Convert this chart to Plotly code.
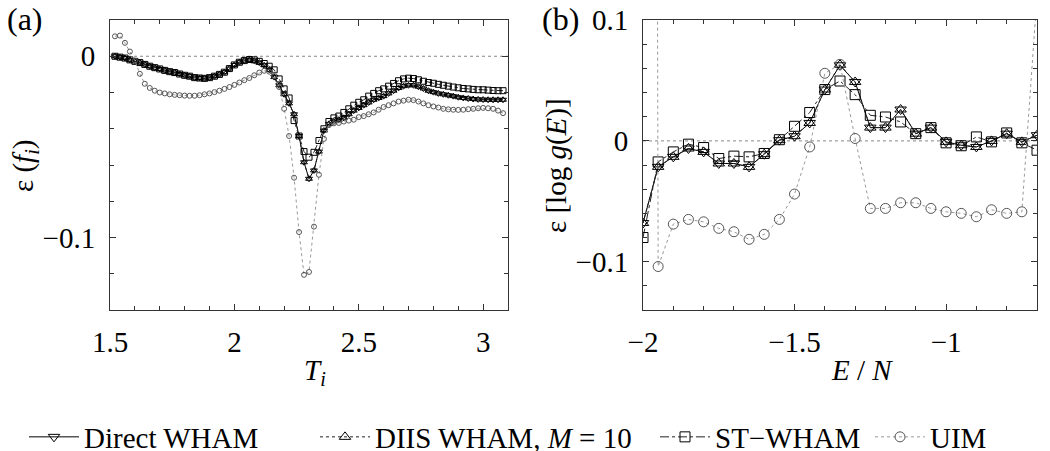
import plotly.graph_objects as go

# ---------------- data: panel (a) ----------------
T = [1.52, 1.54, 1.56, 1.58, 1.60, 1.62, 1.64, 1.66, 1.68, 1.70,
     1.72, 1.74, 1.76, 1.78, 1.80, 1.82, 1.84, 1.86, 1.88, 1.90,
     1.92, 1.94, 1.96, 1.98, 2.00, 2.02, 2.04, 2.06, 2.08, 2.10,
     2.12, 2.14, 2.16, 2.18, 2.20, 2.22, 2.24, 2.26, 2.28, 2.30,
     2.32, 2.34, 2.36, 2.38, 2.40, 2.42, 2.44, 2.46, 2.48, 2.50,
     2.52, 2.54, 2.56, 2.58, 2.60, 2.62, 2.64, 2.66, 2.68, 2.70,
     2.72, 2.74, 2.76, 2.78, 2.80, 2.82, 2.84, 2.86, 2.88, 2.90,
     2.92, 2.94, 2.96, 2.98, 3.00, 3.02, 3.04, 3.06, 3.08]

fa_direct = [0.0, -0.0005, -0.001, -0.002, -0.0028, -0.0035, -0.0045, -0.0055, -0.0063, -0.007,
             -0.0078, -0.0085, -0.009, -0.0098, -0.0105, -0.011, -0.0118, -0.012, -0.0122, -0.0118,
             -0.011, -0.010, -0.0088, -0.0068, -0.0048, -0.0033, -0.0024, -0.002, -0.0024, -0.0035,
             -0.005, -0.0075, -0.0115, -0.016, -0.021, -0.026, -0.032, -0.044, -0.0585, -0.0676,
             -0.063, -0.0526, -0.041, -0.0373, -0.036, -0.035, -0.034, -0.032, -0.030, -0.0285,
             -0.027, -0.0255, -0.024, -0.023, -0.022, -0.0205, -0.019, -0.0175, -0.0165, -0.016,
             -0.016, -0.0168, -0.0178, -0.019, -0.0198, -0.0205, -0.021, -0.0215, -0.022, -0.0226,
             -0.023, -0.0233, -0.0236, -0.0238, -0.0239, -0.024, -0.024, -0.024, -0.024]

fa_diis = [0.0, -0.0005, -0.001, -0.002, -0.0028, -0.0035, -0.0045, -0.0055, -0.0063, -0.007,
           -0.0078, -0.0085, -0.009, -0.0098, -0.0105, -0.011, -0.0118, -0.012, -0.0122, -0.0118,
           -0.011, -0.010, -0.0088, -0.0068, -0.0048, -0.0033, -0.0024, -0.002, -0.0024, -0.0035,
           -0.005, -0.0075, -0.0115, -0.016, -0.021, -0.026, -0.032, -0.044, -0.0585, -0.0676,
           -0.063, -0.0526, -0.041, -0.0373, -0.036, -0.035, -0.034, -0.032, -0.030, -0.0285,
           -0.027, -0.0255, -0.024, -0.023, -0.022, -0.0205, -0.019, -0.0175, -0.0165, -0.016,
           -0.016, -0.0168, -0.0178, -0.019, -0.0198, -0.0205, -0.021, -0.0215, -0.022, -0.0226,
           -0.023, -0.0233, -0.0236, -0.0238, -0.0239, -0.024, -0.024, -0.024, -0.024]

fa_st = [0.0, -0.0005, -0.001, -0.002, -0.0028, -0.0035, -0.0045, -0.0055, -0.0063, -0.007,
         -0.0078, -0.0085, -0.009, -0.0098, -0.0105, -0.011, -0.0118, -0.012, -0.0122, -0.0118,
         -0.011, -0.010, -0.0088, -0.0068, -0.0048, -0.0033, -0.0024, -0.0018, -0.002, -0.0028,
         -0.004, -0.0055, -0.0075, -0.0125, -0.018, -0.023, -0.0355, -0.044, -0.0526, -0.0557,
         -0.053, -0.0465, -0.040, -0.036, -0.034, -0.033, -0.031, -0.029, -0.027, -0.0254,
         -0.024, -0.022, -0.0205, -0.019, -0.018, -0.0165, -0.015, -0.0135, -0.0125, -0.0121,
         -0.0123, -0.013, -0.0138, -0.0145, -0.0149, -0.0155, -0.016, -0.0165, -0.017, -0.0174,
         -0.0178, -0.018, -0.0183, -0.0185, -0.0185, -0.0187, -0.0189, -0.019, -0.019]

fa_uim = [0.011, 0.0114, 0.0074, 0.0026, -0.0024, -0.0097, -0.0152, -0.0175, -0.019, -0.020,
          -0.0205, -0.021, -0.0213, -0.0215, -0.0217, -0.0218, -0.0218, -0.0215, -0.021, -0.0205,
          -0.0198, -0.019, -0.018, -0.017, -0.0158, -0.0145, -0.0132, -0.012, -0.0105, -0.009,
          -0.008, -0.0085, -0.011, -0.017, -0.029, -0.044, -0.067, -0.097, -0.1206, -0.119,
          -0.094, -0.0654, -0.0456, -0.038, -0.037, -0.0368, -0.036, -0.0355, -0.035, -0.0336,
          -0.033, -0.032, -0.031, -0.0295, -0.028, -0.027, -0.026, -0.025, -0.0245, -0.024,
          -0.0242, -0.025, -0.026, -0.027, -0.0277, -0.0283, -0.029, -0.0293, -0.0295, -0.0296,
          -0.0295, -0.0292, -0.029, -0.0287, -0.0285, -0.0287, -0.029, -0.030, -0.0314]

# ---------------- data: panel (b) ----------------
E = [-2.00, -1.95, -1.90, -1.85, -1.80, -1.75, -1.70, -1.65, -1.60, -1.55,
     -1.50, -1.45, -1.40, -1.35, -1.30, -1.25, -1.20, -1.15, -1.10, -1.05,
     -1.00, -0.95, -0.90, -0.85, -0.80, -0.75, -0.70]

gb_direct = [-0.068, -0.0215, -0.0132, -0.0063, -0.0091, -0.0187, -0.0187, -0.0215, -0.011, 0.0006,
             0.0039, 0.0149, 0.0425, 0.0626, 0.0488, 0.011, 0.011, 0.026, 0.006, 0.011,
             -0.0008, -0.0036, -0.005, 0.0, 0.006, -0.0008, 0.0047]

gb_diis = [-0.068, -0.0215, -0.0132, -0.0063, -0.0091, -0.0187, -0.0187, -0.0215, -0.011, 0.0006,
           0.0039, 0.0149, 0.0425, 0.063, 0.0488, 0.011, 0.011, 0.026, 0.006, 0.011,
           -0.0008, -0.0036, -0.005, 0.0, 0.006, -0.0008, 0.0047]

gb_st = [-0.080, -0.0174, -0.0091, -0.0027, -0.0055, -0.0146, -0.0126, -0.0132, -0.0104, 0.001,
         0.0121, 0.0235, 0.0425, 0.0496, 0.0383, 0.0212, 0.0198, 0.0157, 0.006, 0.011,
         -0.0016, -0.004, 0.0033, -0.0008, 0.0066, -0.0016, -0.0077]

gb_uim = [5.0, -0.104, -0.0689, -0.065, -0.067, -0.0724, -0.0752, -0.0815, -0.0774, -0.065,
          -0.044, -0.005, 0.056, 0.0634, 0.002, -0.0559, -0.0559, -0.0512, -0.0512, -0.0559,
          -0.0587, -0.060, -0.0628, -0.057, -0.060, -0.0587, 0.12]

series_names = ["Direct WHAM", "DIIS WHAM, <i>M</i> = 10", "ST\u2212WHAM", "UIM"]

# ---------------- styles ----------------
FONT = "Liberation Serif, 'Times New Roman', Times, 'DejaVu Serif', serif"
FS = 29
styles = [
    dict(line=dict(color="black", width=1, dash="solid"), symbol="triangle-down-open", mcolor="black"),
    dict(line=dict(color="#222222", width=1, dash="dot"), symbol="triangle-up-open", mcolor="black"),
    dict(line=dict(color="#222222", width=1, dash="dashdot"), symbol="square-open", mcolor="black"),
    dict(line=dict(color="#999999", width=1, dash="dot"), symbol="circle-open", mcolor="#555555"),
]
legend_ids = ["legend", "legend2", "legend3", "legend4"]

fig = go.Figure()

a_series = [fa_direct, fa_diis, fa_st, fa_uim]
b_series = [gb_direct, gb_diis, gb_st, gb_uim]
a_sizes = [6, 6, 6, 5]

for i, (name, ys) in enumerate(zip(series_names, a_series)):
    st = styles[i]
    fig.add_trace(go.Scatter(
        x=T, y=ys, mode="lines+markers", name=name, showlegend=False,
        line=st["line"],
        marker=dict(symbol=st["symbol"], size=a_sizes[i], color=st["mcolor"],
                    line=dict(width=1, color=st["mcolor"])),
        xaxis="x", yaxis="y"))

for i, (name, ys) in enumerate(zip(series_names, b_series)):
    st = styles[i]
    fig.add_trace(go.Scatter(
        x=E, y=ys, mode="lines+markers", name=name, showlegend=True,
        legend=legend_ids[i],
        line=st["line"],
        marker=dict(symbol=st["symbol"], size=10, color=st["mcolor"],
                    line=dict(width=1, color=st["mcolor"])),
        xaxis="x2", yaxis="y2"))

W, H = 1050, 451


def px_x(p):
    return p / W


def px_y(p):
    return 1 - p / H


axis_common = dict(
    showline=True, linecolor="#333333", linewidth=1, mirror="ticks",
    ticks="inside", ticklen=6, tickcolor="#333333", tickwidth=1,
    showgrid=False, zeroline=False, automargin=False,
    tickfont=dict(family=FONT, size=FS, color="black"),
)

fig.update_layout(
    width=W, height=H,
    margin=dict(l=0, r=0, t=0, b=0, pad=0, autoexpand=False),
    paper_bgcolor="white", plot_bgcolor="white",
    font=dict(family=FONT, color="black"),
    xaxis=dict(axis_common, domain=[px_x(110), px_x(508)], range=[1.5, 3.1],
               tick0=1.5, dtick=0.5, ticklabelstandoff=6,
               minor=dict(ticks="inside", ticklen=4, dtick=0.1, tickcolor="#333333"),
               anchor="y"),
    yaxis=dict(axis_common, domain=[px_y(310), px_y(20)], range=[-0.14, 0.02],
               tick0=0, dtick=0.1, ticklabelstandoff=8,
               minor=dict(ticks="inside", ticklen=4, dtick=0.02, tickcolor="#333333"),
               anchor="x"),
    xaxis2=dict(axis_common, domain=[px_x(643), px_x(1037)], range=[-2.0, -0.7],
                tick0=-2, dtick=0.5, ticklabelstandoff=6,
                minor=dict(ticks="inside", ticklen=4, dtick=0.1, tickcolor="#333333"),
                anchor="y2"),
    yaxis2=dict(axis_common, domain=[px_y(310), px_y(20)], range=[-0.14, 0.1001],
                tick0=0, dtick=0.1, ticklabelstandoff=8,
                minor=dict(ticks="inside", ticklen=4, dtick=0.02, tickcolor="#333333"),
                anchor="x2"),
    shapes=[
        dict(type="line", xref="x domain", yref="y", x0=0, x1=1, y0=0, y1=0,
             line=dict(color="#888888", width=1, dash="dot"), layer="below"),
        dict(type="line", xref="x2 domain", yref="y2", x0=0, x1=1, y0=0, y1=0,
             line=dict(color="#888888", width=1, dash="dot"), layer="below"),
    ],
)

leg_common = dict(orientation="h", yanchor="middle", xanchor="left",
                  bgcolor="rgba(0,0,0,0)", borderwidth=0,
                  font=dict(family=FONT, size=FS, color="black"), itemwidth=50)
leg_x = [24, 315, 655, 870]
fig.update_layout(
    legend=dict(leg_common, x=px_x(leg_x[0]), y=px_y(437)),
    legend2=dict(leg_common, x=px_x(leg_x[1]), y=px_y(437)),
    legend3=dict(leg_common, x=px_x(leg_x[2]), y=px_y(437)),
    legend4=dict(leg_common, x=px_x(leg_x[3]), y=px_y(437)),
)


def add_text(text, xp, yp, angle=0, xa="center", ya="middle", size=FS):
    fig.add_annotation(text=text, x=px_x(xp), y=px_y(yp), xref="paper", yref="paper",
                       xanchor=xa, yanchor=ya, showarrow=False, textangle=angle,
                       font=dict(family=FONT, size=size, color="black"))


add_text("(a)", 25, 19, size=32)
add_text("(b)", 560, 19, size=32)
add_text("<i>T<sub>i</sub></i>", 315, 372)
add_text("<i>E</i> / <i>N</i>", 862, 370)
add_text("\u03b5 (<i>f<sub>i</sub></i>)", 25, 166, angle=-90)
add_text("\u03b5 [log <i>g</i>(<i>E</i>)]", 556, 166, angle=-90)

fig.write_html("out.html", config={"displayModeBar": False},
               post_script="document.body.style.margin='0';")
